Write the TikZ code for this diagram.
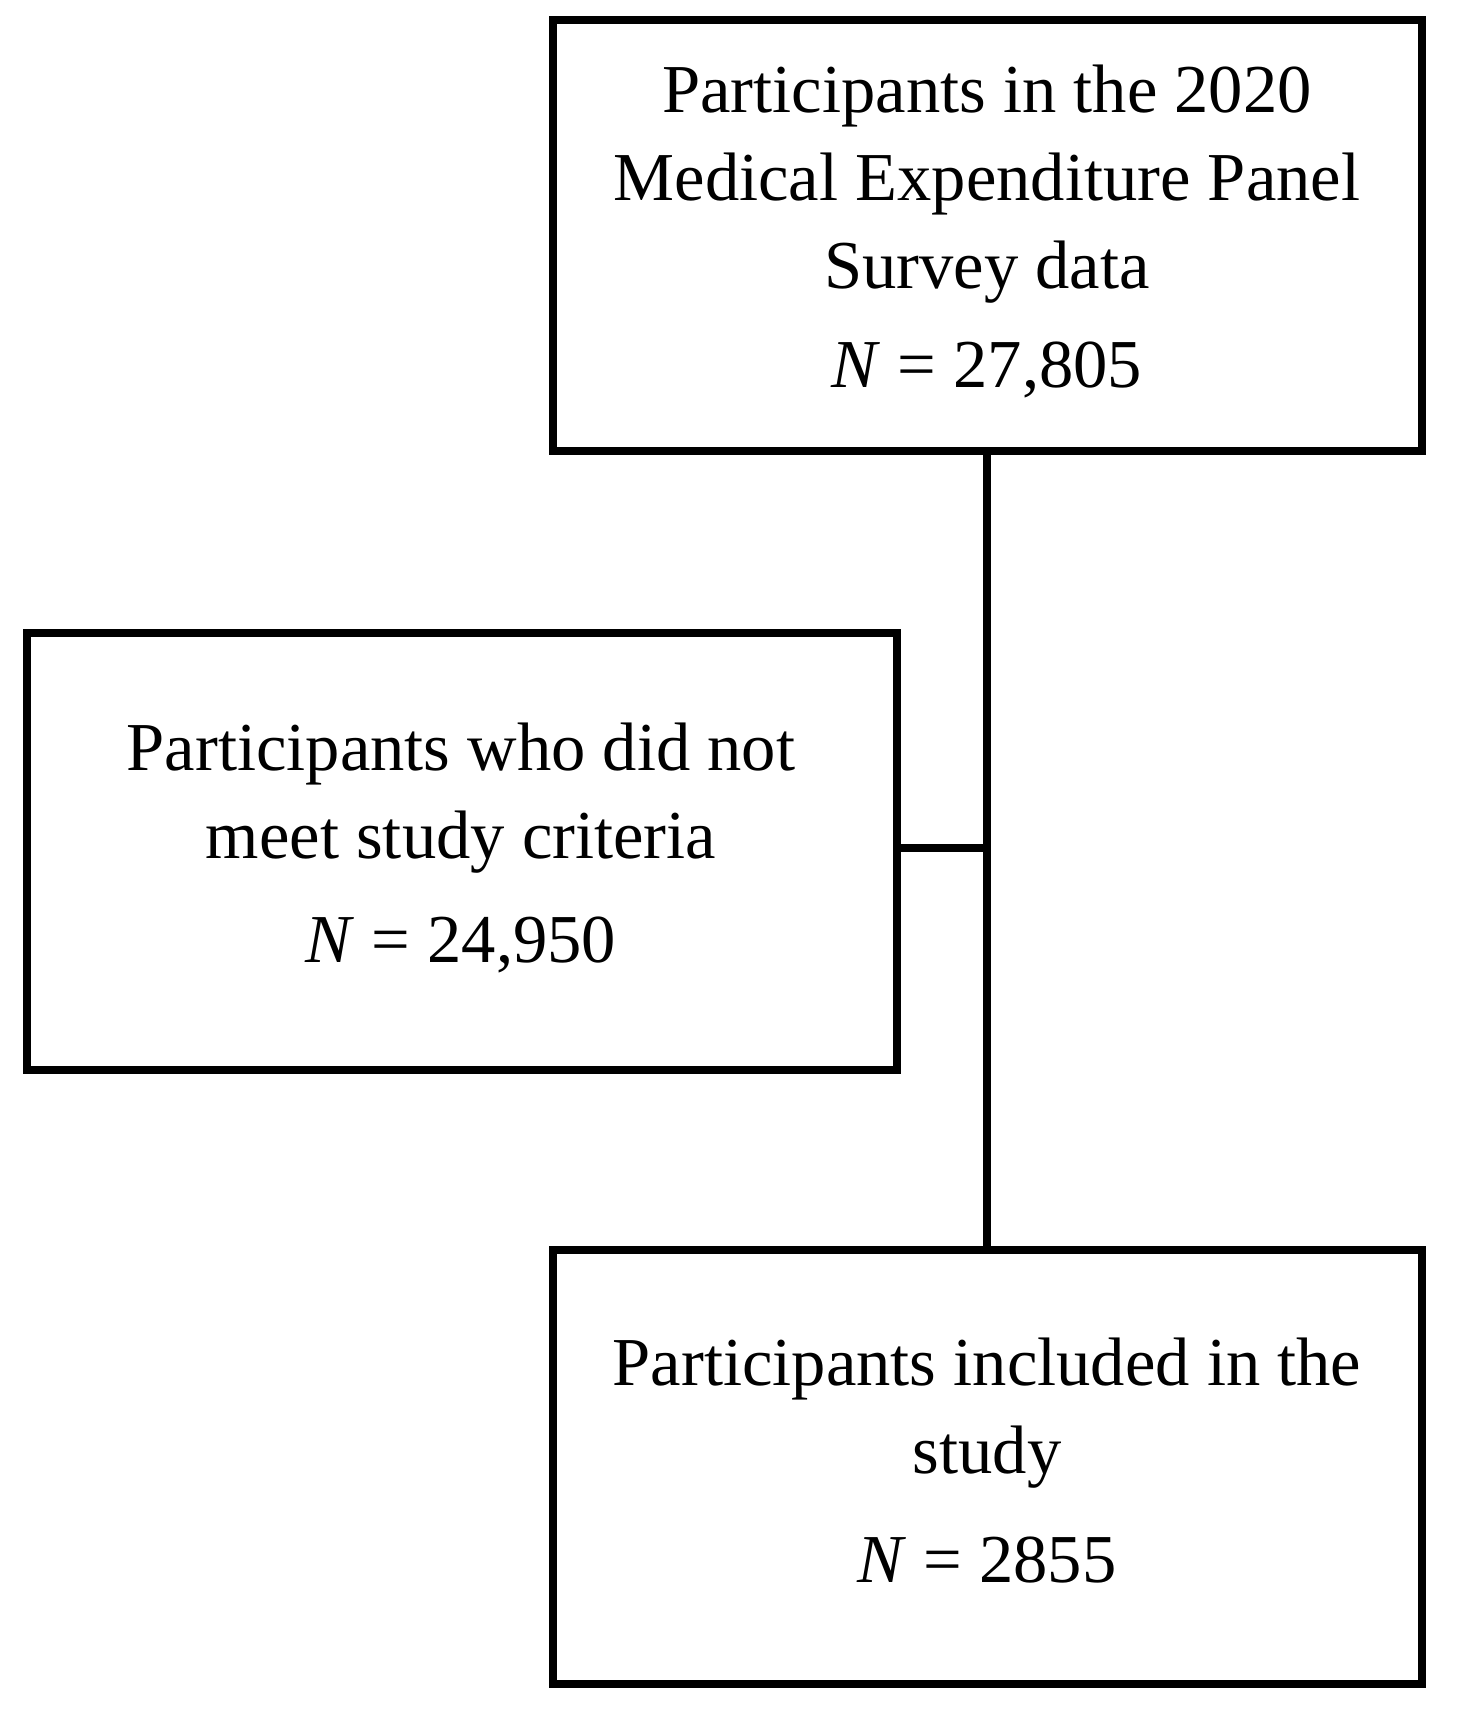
\documentclass[tikz,border=0pt]{standalone}
\usepackage{fontspec}
\setmainfont{Liberation Serif}
\begin{document}
\begin{tikzpicture}[x=0.01cm,y=-0.01cm,
  box/.style={draw,line width=2.2pt,inner sep=0pt},
  lbl/.style={align=center,font=\fontsize{19.5}{25}\selectfont},
  conn/.style={line width=2.2pt}]
\useasboundingbox (0,0) rectangle (1456,1712);
\fill[white] (0,0) rectangle (1456,1712);
\draw[box] (553,20) rectangle (1422,451);
\draw[box] (27,633) rectangle (897,1070);
\draw[box] (553,1250) rectangle (1422,1684);
\coordinate (topb) at (987,451);
\coordinate (botb) at (987,1250);
\coordinate (mid) at (987,848);
\coordinate (midr) at (897,848);
\node[lbl] (t1) at (987,184) {Participants in the 2020\\Medical Expenditure Panel\\Survey data};
\node[lbl] (t2) at (987,370) {\textit{N} = 27,805};
\node[lbl] (m1) at (461,798) {Participants who did not\\meet study criteria};
\node[lbl] (m2) at (461,945) {\textit{N} = 24,950};
\node[lbl] (b1) at (987,1413) {Participants included in the\\study};
\node[lbl] (b2) at (987,1560) {\textit{N} = 2855};
\draw[conn] (topb) -- (botb);
\draw[conn] (midr) -- (mid);
\end{tikzpicture}
\end{document}
